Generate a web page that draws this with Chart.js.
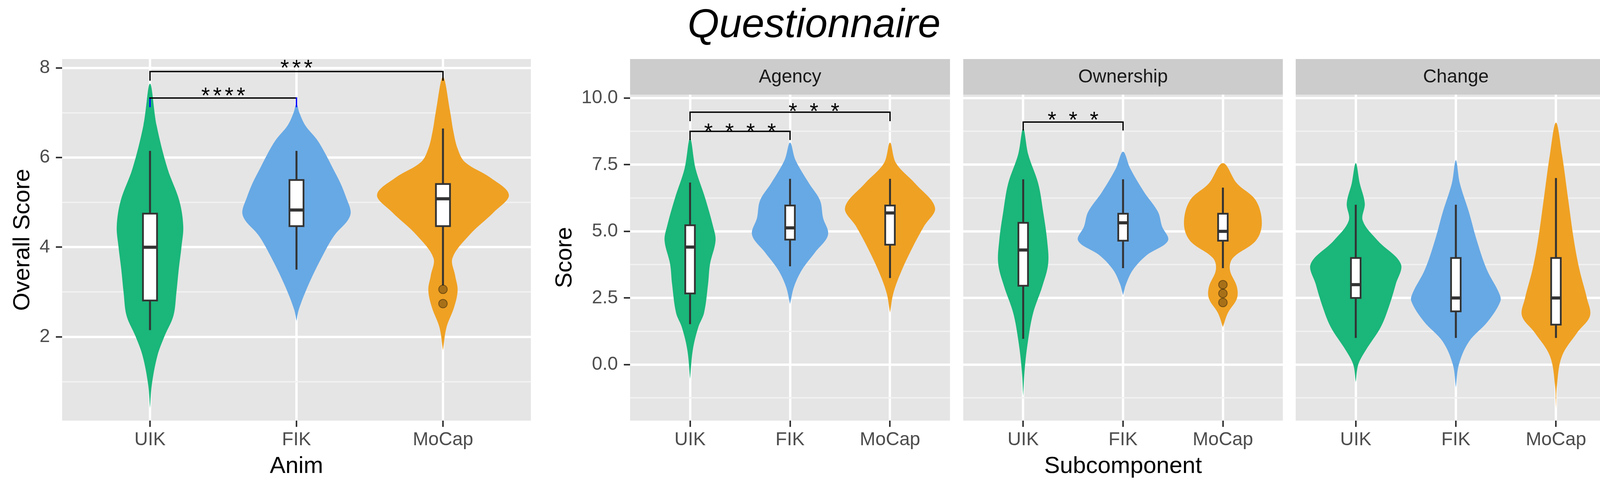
<!DOCTYPE html>
<html>
<head>
<meta charset="utf-8">
<script src="https://cdn.jsdelivr.net/npm/chart.js@4"></script>
<style>
  body { margin: 0; background: #fff; }
  #wrap { position: relative; width: 4168px; height: 1251px; overflow: hidden; }
  #wrap canvas { position: absolute; top: 0; }
  #title {
    position: absolute; left: 0; top: 7px; width: 4168px; text-align: center;
    font: italic 104px/1 "Liberation Sans", Arial, sans-serif; color: #000;
  }
</style>
</head>
<body>
<div id="wrap">
  <div id="title">Questionnaire</div>
  <canvas id="overall" width="1400" height="1251" style="left:0"></canvas>
  <canvas id="agency" width="1040" height="1251" style="left:1400px"></canvas>
  <canvas id="ownership" width="860" height="1251" style="left:2440px"></canvas>
  <canvas id="change" width="868" height="1251" style="left:3300px"></canvas>
</div>
<script>
// categorias e eixos
const groups = ['UIK', 'FIK', 'MoCap'];
const fillColors = ['#1AB67A', '#67A9E5', '#EFA123'];
const overallMajor = [2, 4, 6, 8];
const overallMinor = [1, 3, 5, 7];
const scoreMajor = [0, 2.5, 5, 7.5, 10];
const scoreMinor = [-1.25, 1.25, 3.75, 6.25, 8.75];

// contornos dos violinos: [score, meia largura em unidades de categoria]
const overallUIK = [[0.41, 0], [0.92, 0.012], [1.57, 0.05], [2.02, 0.1], [2.47, 0.16], [2.98, 0.18], [3.5, 0.196], [4.01, 0.215], [4.47, 0.227], [5.04, 0.2], [5.75, 0.12], [6.72, 0.045], [7.65, 0]];
const overallFIK = [[2.35, 0], [2.6, 0.015], [3.17, 0.083], [3.82, 0.18], [4.27, 0.26], [4.6, 0.35], [4.79, 0.37], [5.1, 0.34], [5.43, 0.3], [5.75, 0.25], [6.07, 0.2], [6.4, 0.14], [6.72, 0.06], [7.0, 0.02], [7.2, 0]];
const overallMoCap = [[1.7, 0], [2.21, 0.024], [2.66, 0.076], [3.04, 0.1], [3.37, 0.083], [3.76, 0.065], [4.27, 0.18], [4.79, 0.35], [5.17, 0.45], [5.56, 0.32], [5.9, 0.15], [6.2, 0.1], [6.6, 0.07], [7.04, 0.048], [7.8, 0]];

const agencyUIK = [[-0.54, 0], [0.54, 0.027], [1.4, 0.082], [1.94, 0.14], [3.02, 0.18], [3.78, 0.2], [4.65, 0.255], [5.19, 0.23], [6.26, 0.15], [7.35, 0.055], [8.49, 0]];
const agencyFIK = [[2.27, 0], [2.92, 0.04], [3.56, 0.12], [4.21, 0.25], [4.87, 0.38], [5.51, 0.33], [6.16, 0.3], [6.8, 0.19], [7.67, 0.055], [8.33, 0]];
const agencyMoCap = [[1.95, 0], [2.7, 0.035], [3.56, 0.12], [4.43, 0.23], [5.19, 0.34], [5.89, 0.45], [6.8, 0.25], [7.56, 0.06], [8.33, 0]];

const ownershipUIK = [[-1.19, 0], [-0.22, 0.014], [0.86, 0.047], [1.94, 0.1], [2.92, 0.19], [3.78, 0.25], [4.65, 0.24], [5.73, 0.2], [6.8, 0.15], [7.89, 0.05], [8.86, 0]];
const ownershipFIK = [[2.6, 0], [3.02, 0.03], [3.56, 0.1], [4.1, 0.235], [4.65, 0.45], [5.19, 0.39], [5.73, 0.35], [6.48, 0.21], [7.35, 0.073], [7.99, 0]];
const ownershipMoCap = [[1.41, 0], [1.94, 0.05], [2.48, 0.14], [2.92, 0.14], [3.56, 0.07], [4.0, 0.1], [4.65, 0.33], [5.3, 0.39], [6.16, 0.33], [6.8, 0.14], [7.56, 0]];

const changeUIK = [[-0.66, 0], [0, 0.025], [0.54, 0.1], [1.41, 0.25], [2.16, 0.33], [3.02, 0.4], [3.78, 0.45], [4.65, 0.22], [5.4, 0.07], [6.05, 0.09], [6.8, 0.04], [7.56, 0]];
const changeFIK = [[-0.86, 0], [0, 0.03], [0.86, 0.13], [1.62, 0.32], [2.38, 0.445], [2.7, 0.43], [3.56, 0.31], [4.65, 0.21], [5.73, 0.13], [6.8, 0.04], [7.67, 0]];
const changeMoCap = [[-1.63, 0], [-0.76, 0.01], [0.32, 0.06], [1.19, 0.21], [1.83, 0.34], [2.48, 0.31], [3.56, 0.235], [4.65, 0.18], [6.26, 0.12], [7.89, 0.06], [9.08, 0]];

// boxplots: [bigode inferior, Q1, mediana, Q3, bigode superior]
const overallBoxes = [[2.15, 2.81, 4.0, 4.75, 6.15], [3.5, 4.47, 4.83, 5.5, 6.15], [3.15, 4.47, 5.08, 5.41, 6.65]];
const agencyBoxes = [[1.52, 2.67, 4.41, 5.23, 6.83], [3.69, 4.69, 5.13, 5.97, 6.97], [3.25, 4.5, 5.69, 5.97, 6.97]];
const ownershipBoxes = [[0.97, 2.96, 4.3, 5.32, 6.95], [3.62, 4.65, 5.32, 5.66, 6.95], [3.62, 4.65, 5.0, 5.66, 6.64]];
const changeBoxes = [[1, 2.5, 3, 4, 6], [1, 2, 2.5, 4, 6], [1, 1.5, 2.5, 4, 7]];

// outliers: [categoria, score]
const overallOutliers = [[3, 3.06], [3, 2.74]];
const ownershipOutliers = [[3, 3.0], [3, 2.67], [3, 2.33]];

// colchetes de significancia: [de, ate, topo, fim do traco]
const overallBrackets = [[1, 3, 7.92, 7.73], [1, 2, 7.33, 7.14]];
const overallBracketTicks = ['#000000', '#0000FF'];
const overallStars = [['***', 2, 7.83], ['****', 1.5, 7.21]];
const agencyBrackets = [[1, 3, 9.47, 9.16], [1, 2, 8.75, 8.45]];
const agencyBracketTicks = ['#000000', '#000000'];
const agencyStars = [['* * *', 2.24, 9.22], ['* * * *', 1.5, 8.46]];
const ownershipBrackets = [[1, 2, 9.1, 8.81]];
const ownershipBracketTicks = ['#000000'];
const ownershipStars = [['* * *', 1.5, 8.9]];

Chart.defaults.font.family = '"Liberation Sans", Arial, sans-serif';

const FONT = '"Liberation Sans", Arial, sans-serif';
const panelInfo = {};

// fundo do painel, faixa do facet e rotulos de significancia
const panelPlugin = {
  id: 'panelDeco',
  beforeDraw(chart) {
    const info = panelInfo[chart.canvas.id];
    const { ctx, chartArea: a } = chart;
    ctx.save();
    ctx.fillStyle = '#E5E5E5';
    ctx.fillRect(a.left, a.top, a.right - a.left, a.bottom - a.top);
    if (info.strip) {
      ctx.fillStyle = '#CCCCCC';
      ctx.fillRect(a.left, a.top - 91, a.right - a.left, 91);
      ctx.fillStyle = '#1A1A1A';
      ctx.font = '48px ' + FONT;
      ctx.textAlign = 'center';
      ctx.textBaseline = 'middle';
      ctx.fillText(info.strip, (a.left + a.right) / 2, a.top - 44);
    }
    ctx.restore();
  },
  afterDatasetsDraw(chart) {
    const info = panelInfo[chart.canvas.id];
    const { ctx, scales: { x, y } } = chart;
    info.stars.forEach(([text, xv, yv]) => {
      ctx.save();
      ctx.font = '57px ' + FONT;
      ctx.letterSpacing = '8px';
      ctx.fillStyle = '#000';
      ctx.textAlign = 'center';
      ctx.textBaseline = 'alphabetic';
      ctx.fillText(text, x.getPixelForValue(xv) + 4, y.getPixelForValue(yv));
      ctx.restore();
    });
  }
};

function violinPoints(x, prof) {
  const right = prof.map(p => ({ x: x + p[1], y: p[0] }));
  const left = prof.slice(0, -1).reverse().map(p => ({ x: x - p[1], y: p[0] }));
  return right.concat(left);
}

function buildDatasets(violins, boxes, outliers, brackets, tickColors) {
  const sets = [];
  const hw = 0.048;
  violins.forEach((prof, i) => {
    const x = i + 1;
    sets.push({ data: violinPoints(x, prof), fill: 'shape', backgroundColor: fillColors[i], borderWidth: 0, tension: 0.35, pointRadius: 0, order: 10 });
    const [lo, q1, med, q3, hi] = boxes[i];
    sets.push({ data: [{ x, y: lo }, { x, y: hi }], borderColor: '#333333', borderWidth: 5, pointRadius: 0, fill: false, order: 6 });
    sets.push({
      data: [{ x: x - hw, y: q1 }, { x: x + hw, y: q1 }, { x: x + hw, y: q3 }, { x: x - hw, y: q3 }, { x: x - hw, y: q1 }],
      fill: 'shape', backgroundColor: '#FFFFFF', borderColor: '#333333', borderWidth: 4.5,
      borderJoinStyle: 'miter', borderCapStyle: 'square', tension: 0, pointRadius: 0, order: 5
    });
    sets.push({ data: [{ x: x - hw, y: med }, { x: x + hw, y: med }], borderColor: '#333333', borderWidth: 8, pointRadius: 0, fill: false, order: 4 });
  });
  if (outliers.length) {
    sets.push({
      data: outliers.map(o => ({ x: o[0], y: o[1] })), showLine: false, pointRadius: 11,
      pointBackgroundColor: 'rgba(0,0,0,0.3)', pointBorderColor: 'rgba(0,0,0,0.4)', pointBorderWidth: 2, order: 3
    });
  }
  brackets.forEach((b, i) => {
    const [x1, x2, top, end] = b;
    sets.push({
      data: [{ x: x1, y: end }, { x: x1, y: top }, { x: x2, y: top }, { x: x2, y: end }],
      borderColor: '#000000', borderWidth: 3.5, pointRadius: 0, tension: 0, fill: false,
      borderCapStyle: 'square', borderJoinStyle: 'miter',
      segment: { borderColor: c => c.p0DataIndex === 1 ? '#000000' : tickColors[i] },
      order: 1
    });
  });
  return sets;
}

function makeChart(id, p) {
  panelInfo[id] = { strip: p.strip, stars: p.stars };
  const isMajor = v => p.major.includes(v);
  return new Chart(document.getElementById(id), {
    type: 'line',
    data: { datasets: p.datasets },
    options: {
      responsive: false,
      devicePixelRatio: 1,
      animation: false,
      events: [],
      layout: { padding: { top: p.padTop, right: p.padRight, left: 0, bottom: 0 } },
      plugins: { legend: { display: false }, tooltip: { enabled: false } },
      scales: {
        x: {
          type: 'linear', min: 0.4, max: 3.6,
          afterBuildTicks: s => { s.ticks = [1, 2, 3].map(v => ({ value: v })); },
          afterFit: s => { s.height = 175; },
          ticks: { callback: v => groups[v - 1], font: { size: 48 }, color: '#4D4D4D', padding: 5, autoSkip: false, maxRotation: 0 },
          grid: { color: '#FFFFFF', lineWidth: 6, tickColor: '#333333', tickLength: 16, tickWidth: 4 },
          border: { display: false },
          title: { display: !!p.xTitle, text: p.xTitle || '', font: { size: 60 }, color: '#000000', padding: { top: 0, bottom: 22 } }
        },
        y: {
          type: 'linear', min: p.yMin, max: p.yMax,
          afterBuildTicks: s => { s.ticks = p.major.concat(p.minor).sort((a, b) => a - b).map(v => ({ value: v })); },
          afterFit: s => { s.width = p.yWidth; },
          ticks: { display: p.showY, callback: v => isMajor(v) ? p.fmt(v) : '', font: { size: 48 }, color: '#4D4D4D', padding: 15, autoSkip: false },
          grid: {
            color: c => isMajor(c.tick.value) ? '#FFFFFF' : '#F2F2F2',
            lineWidth: c => isMajor(c.tick.value) ? 6 : 3.5,
            drawTicks: p.showY,
            tickColor: c => isMajor(c.tick.value) ? '#333333' : 'rgba(0,0,0,0)',
            tickLength: 16, tickWidth: 4
          },
          border: { display: false },
          title: { display: !!p.yTitle, text: p.yTitle || '', font: { size: 60 }, color: '#000000', padding: { top: p.yTitlePad || 0, bottom: 0 } }
        }
      }
    },
    plugins: [panelPlugin]
  });
}

makeChart('overall', {
  datasets: buildDatasets([overallUIK, overallFIK, overallMoCap], overallBoxes, overallOutliers, overallBrackets, overallBracketTicks),
  yMin: 0.13, yMax: 8.2, major: overallMajor, minor: overallMinor, fmt: v => String(v),
  showY: true, yWidth: 159, padTop: 151, padRight: 41,
  yTitle: 'Overall Score', yTitlePad: 22, xTitle: 'Anim', strip: null, stars: overallStars
});

makeChart('agency', {
  datasets: buildDatasets([agencyUIK, agencyFIK, agencyMoCap], agencyBoxes, [], agencyBrackets, agencyBracketTicks),
  yMin: -2.1, yMax: 10.13, major: scoreMajor, minor: scoreMinor, fmt: v => v.toFixed(1),
  showY: true, yWidth: 213, padTop: 242, padRight: 8,
  yTitle: 'Score', yTitlePad: 10, xTitle: null, strip: 'Agency', stars: agencyStars
});

makeChart('ownership', {
  datasets: buildDatasets([ownershipUIK, ownershipFIK, ownershipMoCap], ownershipBoxes, ownershipOutliers, ownershipBrackets, ownershipBracketTicks),
  yMin: -2.1, yMax: 10.13, major: scoreMajor, minor: scoreMinor, fmt: v => v.toFixed(1),
  showY: false, yWidth: 26, padTop: 242, padRight: 16,
  yTitle: null, xTitle: 'Subcomponent', strip: 'Ownership', stars: ownershipStars
});

makeChart('change', {
  datasets: buildDatasets([changeUIK, changeFIK, changeMoCap], changeBoxes, [], [], []),
  yMin: -2.1, yMax: 10.13, major: scoreMajor, minor: scoreMinor, fmt: v => v.toFixed(1),
  showY: false, yWidth: 17, padTop: 242, padRight: 31,
  yTitle: null, xTitle: null, strip: 'Change', stars: []
});
</script>
</body>
</html>
